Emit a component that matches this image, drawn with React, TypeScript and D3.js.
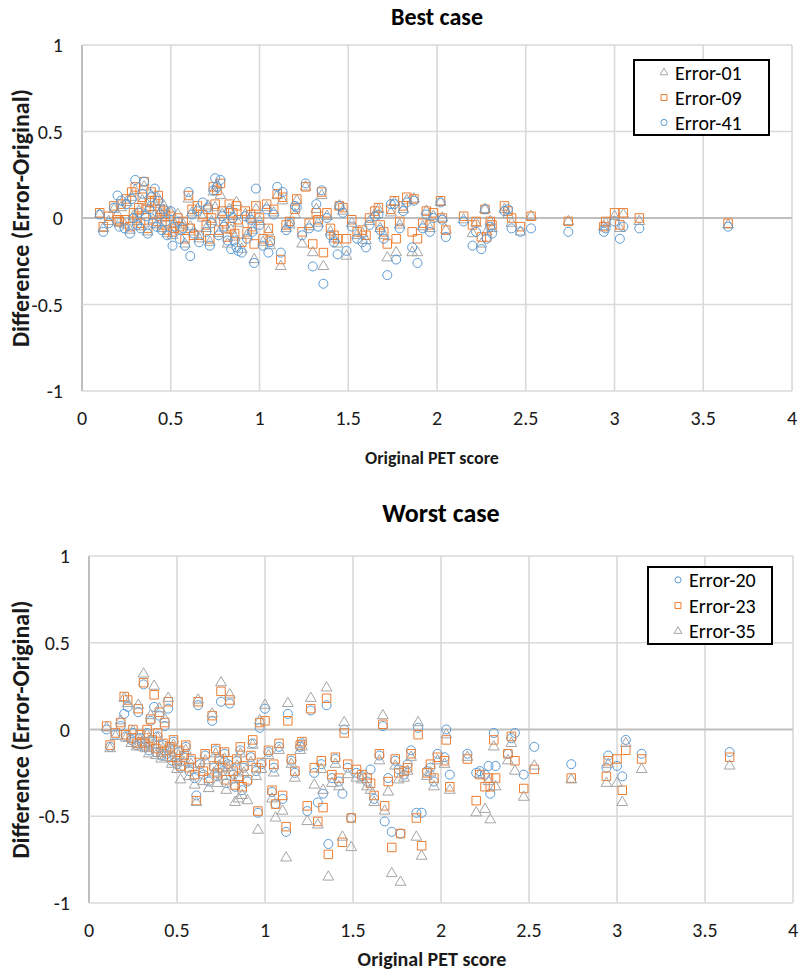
import React from 'react';
import * as d3 from 'd3';

// Original PET score of each subject (shared by both panels)
const petScore = [
  0.10, 0.12, 0.15, 0.18, 0.20, 0.21, 0.22, 0.24, 0.25, 0.27,
  0.28, 0.29, 0.30, 0.31, 0.32, 0.33, 0.34, 0.35, 0.36, 0.37,
  0.38, 0.39, 0.40, 0.41, 0.42, 0.43, 0.44, 0.45, 0.46, 0.47,
  0.48, 0.50, 0.51, 0.52, 0.54, 0.55, 0.57, 0.58, 0.60, 0.61,
  0.62, 0.63, 0.65, 0.66, 0.68, 0.70, 0.71, 0.72, 0.73, 0.74,
  0.75, 0.76, 0.77, 0.78, 0.79, 0.80, 0.82, 0.83, 0.84, 0.85,
  0.86, 0.87, 0.88, 0.90, 0.92, 0.93, 0.95, 0.96, 0.97, 0.98,
  1.00, 1.02, 1.04, 1.05, 1.06, 1.08, 1.10, 1.12, 1.13, 1.15,
  1.17, 1.20, 1.21, 1.24, 1.26, 1.28, 1.30, 1.32, 1.33, 1.35,
  1.36, 1.38, 1.40, 1.42, 1.44, 1.45, 1.47, 1.49, 1.52, 1.55,
  1.58, 1.60, 1.62, 1.65, 1.67, 1.68, 1.70, 1.72, 1.74, 1.76,
  1.77, 1.79, 1.81, 1.83, 1.86, 1.87, 1.89, 1.92, 1.94, 1.96,
  1.98, 2.02, 2.03, 2.05, 2.15, 2.20, 2.22, 2.25, 2.27, 2.28,
  2.30, 2.31, 2.38, 2.40, 2.42, 2.47, 2.53, 2.74, 2.94, 2.95,
  3.00, 3.03, 3.05, 3.14, 3.64,
];

// Best case differences
const best01 = [
  0.02, -0.06, -0.02, 0.05, 0.02, -0.03, 0.06, -0.04, 0.09, -0.07,
  0.12, 0.01, 0.16, -0.02, 0.04, -0.05, 0.10, 0.18, 0.02, -0.08,
  0.06, 0.13, -0.01, 0.08, -0.04, 0.11, 0.03, -0.06, 0.07, 0.00,
  -0.09, 0.03, -0.10, -0.03, 0.02, -0.07, -0.04, -0.15, 0.11, -0.05,
  0.03, -0.08, 0.05, -0.12, 0.00, -0.06, 0.07, -0.14, -0.02, 0.15,
  0.06, 0.19, -0.09, 0.13, 0.02, -0.04, -0.15, 0.05, -0.07, 0.01,
  -0.11, 0.09, -0.03, -0.18, 0.02, -0.10, 0.00, -0.07, -0.24, 0.05,
  -0.02, -0.14, 0.06, -0.08, -0.16, 0.03, 0.13, -0.28, 0.10, -0.06,
  -0.04, 0.02, 0.10, -0.15, 0.18, -0.05, -0.20, 0.05, -0.03, 0.13,
  -0.28, 0.01, -0.08, -0.12, -0.15, 0.07, 0.04, -0.22, -0.03, -0.10,
  -0.09, -0.13, -0.02, 0.02, 0.05, -0.06, -0.10, -0.23, 0.03, 0.09,
  -0.20, -0.04, 0.05, 0.10, -0.20, 0.11, -0.20, -0.05, 0.04, -0.06,
  0.01, 0.09, 0.00, -0.07, -0.01, -0.09, -0.03, -0.15, 0.05, -0.08,
  -0.02, -0.06, 0.05, 0.02, -0.03, -0.08, 0.01, -0.02, -0.05, -0.03,
  0.01, -0.06, 0.02, -0.02, -0.04,
];
const best09 = [
  0.03, -0.05, 0.01, 0.07, -0.01, -0.02, 0.08, -0.01, 0.11, -0.05,
  0.15, 0.03, 0.18, 0.00, 0.06, -0.03, 0.12, 0.21, 0.05, -0.06,
  0.09, 0.15, 0.02, 0.10, -0.02, 0.13, 0.05, -0.04, 0.04, 0.02,
  -0.07, 0.01, -0.08, -0.06, 0.00, -0.05, -0.02, -0.12, 0.13, -0.06,
  0.05, -0.10, 0.07, -0.10, 0.02, -0.04, 0.05, -0.12, 0.00, 0.18,
  0.08, 0.16, -0.07, 0.20, 0.04, -0.02, -0.11, 0.08, -0.05, 0.03,
  -0.09, 0.07, -0.01, -0.14, 0.04, -0.08, 0.02, -0.05, -0.15, 0.07,
  0.00, -0.12, 0.08, -0.06, -0.13, 0.05, 0.14, -0.24, 0.12, -0.04,
  -0.02, 0.05, 0.11, -0.08, 0.18, -0.03, -0.15, 0.03, -0.01, 0.15,
  -0.20, 0.03, -0.06, -0.10, -0.12, 0.07, 0.06, -0.12, -0.01, -0.08,
  -0.07, -0.10, 0.00, 0.04, 0.06, -0.04, -0.08, -0.15, 0.05, 0.10,
  -0.12, -0.02, 0.07, 0.12, -0.08, 0.11, -0.12, -0.03, 0.04, -0.04,
  0.03, 0.10, 0.00, -0.07, 0.01, -0.04, -0.02, -0.11, 0.05, -0.11,
  -0.02, -0.04, 0.07, 0.04, 0.00, -0.05, 0.01, -0.02, -0.05, -0.02,
  0.03, -0.04, 0.03, 0.00, -0.03,
];
const best41 = [
  0.02, -0.08, -0.03, 0.06, 0.13, -0.05, 0.10, -0.06, 0.08, -0.09,
  0.11, 0.00, 0.22, -0.04, 0.03, -0.06, 0.14, 0.21, 0.01, -0.09,
  0.05, 0.12, -0.03, 0.17, -0.05, 0.10, 0.02, -0.07, 0.05, -0.02,
  -0.10, 0.04, -0.16, -0.05, -0.02, -0.12, -0.06, -0.16, 0.15, -0.22,
  0.02, -0.09, 0.04, -0.14, 0.09, -0.08, 0.06, -0.16, -0.03, 0.16,
  0.23, 0.18, -0.10, 0.22, 0.01, -0.05, -0.13, 0.04, -0.18, 0.00,
  -0.13, -0.17, -0.19, -0.20, 0.01, -0.12, -0.01, -0.08, -0.26, 0.17,
  -0.04, -0.16, 0.05, -0.20, -0.14, 0.02, 0.18, -0.20, 0.15, -0.07,
  -0.03, 0.07, 0.06, -0.10, 0.20, -0.06, -0.28, 0.08, -0.05, 0.16,
  -0.38, 0.00, -0.10, -0.14, -0.21, 0.07, 0.03, -0.19, -0.05, -0.12,
  -0.14, -0.17, -0.04, 0.01, 0.02, -0.07, -0.12, -0.33, 0.08, 0.08,
  -0.24, -0.06, 0.04, 0.09, -0.17, 0.10, -0.26, -0.06, 0.02, -0.08,
  0.00, 0.09, -0.01, -0.11, -0.02, -0.16, -0.08, -0.18, 0.05, -0.12,
  -0.05, -0.09, 0.04, 0.05, -0.06, -0.08, -0.06, -0.08, -0.08, -0.06,
  -0.02, -0.12, -0.05, -0.06, -0.05,
];

// Worst case differences
const worst20 = [
  0.00, -0.10, -0.03, 0.02, 0.09, -0.04, 0.13, -0.06, -0.02, -0.09,
  0.10, -0.05, -0.08, 0.26, -0.10, -0.02, -0.12, 0.05, -0.07, 0.13,
  -0.13, -0.04, 0.08, -0.15, -0.09, 0.02, -0.14, 0.12, -0.11, -0.18,
  -0.07, -0.20, -0.13, -0.22, -0.16, -0.10, -0.24, -0.18, -0.28, -0.38,
  0.14, -0.20, -0.26, -0.15, -0.30, 0.05, -0.22, -0.12, -0.27, -0.18,
  0.16, -0.24, -0.14, -0.31, -0.20, 0.15, -0.26, -0.33, -0.18, -0.28,
  -0.12, -0.35, -0.22, -0.30, -0.16, -0.08, -0.24, -0.48, 0.01, -0.20,
  0.12, -0.13, -0.36, -0.22, -0.43, -0.10, -0.40, -0.59, 0.09, -0.18,
  -0.25, -0.10, -0.08, -0.47, 0.11, -0.25, -0.42, -0.20, -0.37, 0.14,
  -0.66, -0.28, -0.17, -0.30, -0.37, 0.00, -0.22, -0.51, -0.25, -0.27,
  -0.30, -0.23, -0.40, -0.15, 0.02, -0.53, -0.28, -0.59, -0.18, -0.23,
  -0.60, -0.26, -0.20, -0.12, -0.48, 0.01, -0.48, -0.24, -0.22, -0.30,
  -0.14, -0.16, 0.00, -0.26, -0.14, -0.25, -0.24, -0.26, -0.21, -0.37,
  -0.02, -0.21, -0.14, -0.05, -0.02, -0.26, -0.10, -0.20, -0.22, -0.15,
  -0.21, -0.27, -0.06, -0.14, -0.13,
];
const worst23 = [
  0.02, -0.09, -0.02, 0.04, 0.19, -0.03, 0.17, -0.05, 0.00, -0.08,
  0.12, -0.03, -0.07, 0.27, -0.08, 0.00, -0.10, 0.06, -0.06, 0.20,
  -0.11, -0.02, 0.10, -0.13, -0.08, 0.04, -0.12, 0.16, -0.10, -0.16,
  -0.06, -0.18, -0.12, -0.21, -0.15, -0.09, -0.22, -0.17, -0.26, -0.41,
  0.16, -0.19, -0.24, -0.14, -0.28, 0.08, -0.21, -0.11, -0.25, -0.17,
  0.22, -0.22, -0.13, -0.29, -0.18, 0.17, -0.24, -0.32, -0.17, -0.27,
  -0.10, -0.33, -0.21, -0.29, -0.15, -0.06, -0.22, -0.47, 0.04, -0.19,
  0.05, -0.12, -0.35, -0.20, -0.43, -0.08, -0.38, -0.56, 0.05, -0.17,
  -0.24, -0.09, -0.07, -0.44, 0.12, -0.22, -0.53, -0.18, -0.45, 0.18,
  -0.72, -0.26, -0.16, -0.28, -0.65, -0.02, -0.20, -0.51, -0.23, -0.26,
  -0.28, -0.31, -0.38, -0.14, 0.03, -0.44, -0.30, -0.68, -0.17, -0.25,
  -0.60, -0.24, -0.22, -0.14, -0.51, -0.03, -0.67, -0.25, -0.20, -0.28,
  -0.16, -0.18, -0.06, -0.33, -0.17, -0.41, -0.26, -0.33, -0.28, -0.33,
  -0.06, -0.28, -0.14, -0.04, -0.18, -0.34, -0.23, -0.28, -0.27, -0.18,
  -0.17, -0.35, -0.12, -0.17, -0.16,
];
const worst35 = [
  0.01, -0.11, -0.04, 0.05, 0.18, -0.05, 0.15, -0.08, -0.01, -0.10,
  0.14, -0.06, -0.10, 0.32, -0.11, -0.03, -0.14, 0.08, -0.09, 0.25,
  -0.15, -0.05, 0.12, -0.17, -0.11, 0.06, -0.16, 0.18, -0.13, -0.20,
  -0.09, -0.23, -0.15, -0.29, -0.19, -0.12, -0.27, -0.20, -0.32, -0.42,
  0.17, -0.23, -0.30, -0.18, -0.34, 0.09, -0.25, -0.14, -0.31, -0.21,
  0.27, -0.27, -0.17, -0.35, -0.22, 0.20, -0.29, -0.42, -0.21, -0.40,
  -0.14, -0.38, -0.25, -0.41, -0.19, -0.09, -0.27, -0.58, 0.05, -0.23,
  0.14, -0.15, -0.40, -0.25, -0.51, -0.12, -0.47, -0.74, 0.15, -0.20,
  -0.28, -0.12, -0.10, -0.53, 0.18, -0.32, -0.55, -0.23, -0.35, 0.24,
  -0.85, -0.31, -0.20, -0.33, -0.62, 0.04, -0.26, -0.68, -0.28, -0.29,
  -0.33, -0.35, -0.42, -0.18, 0.08, -0.47, -0.36, -0.83, -0.21, -0.29,
  -0.88, -0.28, -0.24, -0.16, -0.62, 0.04, -0.73, -0.27, -0.25, -0.33,
  -0.18, -0.20, -0.03, -0.35, -0.16, -0.48, -0.26, -0.46, -0.30, -0.52,
  -0.10, -0.33, -0.18, -0.08, -0.24, -0.39, -0.21, -0.29, -0.31, -0.20,
  -0.31, -0.42, -0.08, -0.23, -0.21,
];

const xTicks = [0, 0.5, 1, 1.5, 2, 2.5, 3, 3.5, 4];
const yTicks = [1, 0.5, 0, -0.5, -1];

const FONT = 'Carlito, Lato, "Open Sans", sans-serif';
const BLUE = '#5B9BD5';
const ORANGE = '#ED7D31';
const GRAY = '#A5A5A5';

const sizes = new Map<any, number>([
  [d3.symbolCircle, 64],
  [d3.symbolSquare, 72],
  [d3.symbolTriangle, 50],
]);
const legendSizes = new Map<any, number>([
  [d3.symbolCircle, 30],
  [d3.symbolSquare, 36],
  [d3.symbolTriangle, 26],
]);

type Series = { label: string; values: number[]; shape: any; color: string };

const bestSeries: Series[] = [
  { label: 'Error-01', values: best01, shape: d3.symbolTriangle, color: GRAY },
  { label: 'Error-09', values: best09, shape: d3.symbolSquare, color: ORANGE },
  { label: 'Error-41', values: best41, shape: d3.symbolCircle, color: BLUE },
];
const worstSeries: Series[] = [
  { label: 'Error-20', values: worst20, shape: d3.symbolCircle, color: BLUE },
  { label: 'Error-23', values: worst23, shape: d3.symbolSquare, color: ORANGE },
  { label: 'Error-35', values: worst35, shape: d3.symbolTriangle, color: GRAY },
];

type Frame = {
  left: number; right: number; top: number; bottom: number;
  title: string; titleY: number; titleSize: number; tickLabelY: number;
  xTitleX: number; xTitleY: number; xTitleSize: number; yTitleSize: number;
  legend: { x: number; y: number; w: number; h: number };
};

const Panel = ({ f, series }: { f: Frame; series: Series[] }) => {
  const x = d3.scaleLinear().domain([0, 4]).range([f.left, f.right]);
  const y = d3.scaleLinear().domain([-1, 1]).range([f.bottom, f.top]);
  const rowH = f.legend.h / 3;
  return (
    <g>
      <text x={(f.left + f.right) / 2} y={f.titleY} textAnchor="middle" dominantBaseline="central"
        fontSize={f.titleSize} fontWeight="bold" fill="#000">{f.title}</text>

      {/* grid */}
      {xTicks.map(t => (
        <line key={'gx' + t} x1={x(t)} x2={x(t)} y1={f.top} y2={f.bottom}
          stroke={t === 0 ? '#BFBFBF' : '#D9D9D9'} strokeWidth={t === 0 ? 2 : 1.6} />
      ))}
      {yTicks.map(t => (
        <line key={'gy' + t} x1={f.left} x2={f.right} y1={y(t)} y2={y(t)}
          stroke={t === 0 ? '#BFBFBF' : '#D9D9D9'} strokeWidth={t === 0 ? 2.2 : 1.6} />
      ))}

      {/* tick labels */}
      {xTicks.map(t => (
        <text key={'tx' + t} x={x(t)} y={f.tickLabelY} textAnchor="middle" dominantBaseline="central"
          fontSize={20} fill="#1a1a1a">{t}</text>
      ))}
      {yTicks.map(t => (
        <text key={'ty' + t} x={f.left - 19} y={y(t)} textAnchor="end" dominantBaseline="central"
          fontSize={20} fill="#1a1a1a">{t}</text>
      ))}

      {/* axis titles */}
      <text x={f.xTitleX} y={f.xTitleY} textAnchor="middle" dominantBaseline="central"
        fontSize={f.xTitleSize} fontWeight="bold" fill="#1a1a1a">Original PET score</text>
      <text transform={`translate(20,${y(0)}) rotate(-90)`} textAnchor="middle" dominantBaseline="central"
        fontSize={f.yTitleSize} fontWeight="bold" fill="#1a1a1a">Difference (Error-Original)</text>

      {/* markers */}
      {series.map(s => {
        const path = d3.symbol(s.shape, sizes.get(s.shape))();
        return (
          <g key={s.label}>
            {s.values.map((v, i) => (
              <path key={i} d={path as string} transform={`translate(${x(petScore[i])},${y(v)})`}
                fill="none" stroke={s.color} strokeWidth={1} />
            ))}
          </g>
        );
      })}

      {/* legend */}
      <rect x={f.legend.x} y={f.legend.y} width={f.legend.w} height={f.legend.h}
        fill="#fff" stroke="#000" strokeWidth={2} />
      {series.map((s, i) => {
        const cy = f.legend.y + rowH * (i + 0.5);
        return (
          <g key={'lg' + s.label}>
            <path d={d3.symbol(s.shape, legendSizes.get(s.shape))() as string}
              transform={`translate(${f.legend.x + 30},${cy})`} fill="none" stroke={s.color} strokeWidth={1} />
            <text x={f.legend.x + 41} y={cy} dominantBaseline="central" fontSize={20} fill="#000">{s.label}</text>
          </g>
        );
      })}
    </g>
  );
};

const topFrame: Frame = {
  left: 82, right: 792, top: 45, bottom: 391,
  title: 'Best case', titleY: 16, titleSize: 24, tickLabelY: 418,
  xTitleX: 432, xTitleY: 458, xTitleSize: 18, yTitleSize: 24,
  legend: { x: 634, y: 60, w: 135, h: 75 },
};
const bottomFrame: Frame = {
  left: 89, right: 793, top: 556, bottom: 903,
  title: 'Worst case', titleY: 513, titleSize: 26, tickLabelY: 930,
  xTitleX: 432, xTitleY: 959, xTitleSize: 20, yTitleSize: 24,
  legend: { x: 648, y: 567, w: 124, h: 77 },
};

export default function App() {
  return (
    <svg width={800} height={971} style={{ position: 'absolute', left: 0, top: 0, background: '#fff' }}
      fontFamily={FONT}>
      <rect width={800} height={971} fill="#fff" />
      <Panel f={topFrame} series={bestSeries} />
      <Panel f={bottomFrame} series={worstSeries} />
    </svg>
  );
}
